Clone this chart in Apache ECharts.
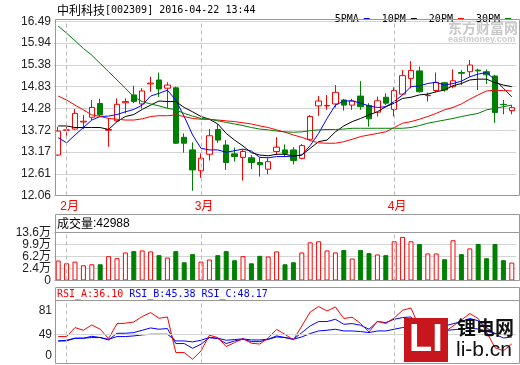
<!DOCTYPE html>
<html><head><meta charset="utf-8">
<script src="https://cdn.jsdelivr.net/npm/echarts@6/dist/echarts.min.js"></script>
<style>html,body{margin:0;padding:0;background:#fff}#c{width:520px;height:365px}</style>
</head><body><div id="c"></div>
<script>
const dates = ['2016-01-29',
 '2016-02-01','2016-02-02','2016-02-03','2016-02-04','2016-02-05','2016-02-15','2016-02-16','2016-02-17','2016-02-18','2016-02-19','2016-02-22','2016-02-23','2016-02-24','2016-02-25','2016-02-26','2016-02-29',
 '2016-03-01','2016-03-02','2016-03-03','2016-03-04','2016-03-07','2016-03-08','2016-03-09','2016-03-10','2016-03-11','2016-03-14','2016-03-15','2016-03-16','2016-03-17','2016-03-18','2016-03-21','2016-03-22','2016-03-23','2016-03-24','2016-03-25','2016-03-28','2016-03-29','2016-03-30','2016-03-31',
 '2016-04-01','2016-04-05','2016-04-06','2016-04-07','2016-04-08','2016-04-11','2016-04-12','2016-04-13','2016-04-14','2016-04-15','2016-04-18','2016-04-19','2016-04-20','2016-04-21','2016-04-22'];
const opens  = [13.09,13.72,13.75,13.93,14.05,14.40,13.72,13.96,14.42,14.62,14.39,14.90,15.00,14.79,14.80,13.54,13.22,12.69,13.11,13.74,13.345,13.12,13.03,13.02,12.90,12.73,13.18,13.22,13.22,13.005,13.49,14.34,14.34,14.39,14.49,14.36,14.59,14.35,14.18,14.56,14.25,14.64,15.04,15.23,14.60,14.73,14.93,14.83,15.19,15.21,15.25,15.21,15.10,14.38,14.22];
const closes = [13.70,13.73,14.15,13.95,14.30,14.11,13.74,14.38,14.45,14.45,14.72,14.92,14.77,14.87,13.39,13.39,12.71,13.01,13.58,13.47,12.90,13.05,13.18,12.90,12.84,12.92,13.29,13.13,12.95,13.33,14.07,14.465,14.35,14.685,14.36,14.465,14.32,14.01,14.47,14.41,14.73,15.11,15.24,14.70,14.61,14.94,14.745,14.98,15.17,15.38,15.23,15.13,14.17,14.37,14.295];
const lows   = [13.065,13.53,13.73,13.75,13.98,14.07,13.30,13.94,14.15,14.41,14.28,14.70,14.57,14.28,13.37,13.15,12.18,12.51,12.95,13.40,12.71,12.92,12.44,12.73,12.54,12.60,13.09,13.065,12.85,12.98,13.46,14.09,14.24,14.30,14.22,14.24,14.24,13.81,14.07,14.36,14.07,14.62,14.79,14.68,14.45,14.68,14.70,14.79,14.87,15.08,14.745,14.90,13.91,14.125,14.125];
const highs  = [13.81,13.81,14.26,14.11,14.49,14.52,14.03,14.53,14.53,14.85,14.79,15.08,15.19,14.94,14.83,13.64,13.41,13.13,13.75,13.87,13.47,13.28,13.22,13.09,13.03,13.01,13.54,13.36,13.29,13.37,14.11,14.59,14.62,14.87,14.52,14.52,14.97,14.41,14.575,14.66,14.81,15.25,15.48,15.34,14.68,15.19,14.95,15.27,15.25,15.51,15.29,15.27,15.13,14.49,14.36];
const ma5  = [13.53,13.40,13.60,13.79,13.98,14.07,14.08,14.12,14.19,14.25,14.36,14.59,14.66,14.74,14.49,14.07,13.60,13.26,13.22,13.22,13.16,13.20,13.24,13.19,13.03,13.02,13.05,13.05,13.065,13.09,13.33,13.64,14.02,14.36,14.465,14.47,14.41,14.34,14.30,14.32,14.45,14.62,14.83,14.85,14.91,14.94,14.87,14.91,14.97,15.08,15.15,15.19,15.00,14.79,14.57];
const ma10 = [13.83,13.83,13.79,13.79,13.79,13.79,13.74,13.94,14.07,14.12,14.25,14.36,14.465,14.45,14.45,14.30,14.19,14.07,14.00,13.88,13.64,13.47,13.32,13.15,13.09,13.07,13.11,13.11,13.065,13.09,13.26,13.43,13.47,13.68,13.83,13.94,14.02,14.11,14.19,14.32,14.41,14.53,14.56,14.62,14.64,14.70,14.745,14.855,14.91,15.00,15.02,15.02,14.93,14.87,14.83];
const ma20 = [14.59,14.49,14.36,14.24,14.11,14.07,14.02,14.00,13.98,13.98,14.01,14.07,14.09,14.09,14.11,14.07,14.02,14.00,14.00,13.98,13.96,13.94,13.91,13.88,13.83,13.79,13.73,13.67,13.60,13.54,13.46,13.40,13.39,13.39,13.43,13.49,13.56,13.60,13.64,13.68,13.79,13.90,13.94,14.00,14.07,14.15,14.24,14.30,14.39,14.51,14.62,14.72,14.74,14.73,14.72];
const ma30 = [16.37,16.19,16.00,15.80,15.63,15.42,15.21,15.00,14.79,14.57,14.45,14.39,14.34,14.28,14.24,14.15,14.08,14.02,14.00,13.96,13.92,13.88,13.84,13.79,13.75,13.73,13.70,13.68,13.67,13.68,13.71,13.73,13.74,13.74,13.75,13.77,13.77,13.77,13.77,13.77,13.77,13.77,13.79,13.84,13.90,13.94,13.98,14.02,14.07,14.11,14.15,14.24,14.28,14.32,14.36];
const volumes = [5.65,4.88,5.36,4.31,4.60,4.60,6.90,6.32,7.95,8.33,8.52,8.24,7.18,6.51,8.33,5.17,7.47,5.36,5.94,7.18,8.33,5.75,6.90,4.88,6.99,6.80,8.24,4.60,5.17,7.95,10.82,11.11,8.52,7.95,8.62,6.22,8.62,7.76,7.37,7.18,11.11,12.35,11.11,10.34,7.66,7.66,6.03,11.40,7.47,9.10,10.34,6.32,10.34,5.75,5.08];
const rsiA = [45.9,45.9,57.9,54.3,61.4,55.7,43.2,63.2,63.7,65.4,72.6,77.9,70.3,72.1,24.6,24.6,15.7,26.8,47.7,44.6,32.6,37.9,43.2,37.0,36.0,44.0,55.5,48.8,41.5,60.0,78.7,86.0,80.0,85.4,70.0,71.7,63.3,52.0,66.3,63.3,70.7,81.0,84.0,58.0,55.0,57.0,52.0,60.0,68.0,76.6,70.0,52.0,31.0,27.0,36.1];
const rsiB = [40.1,40.1,43.7,43.7,46.3,44.6,41.4,50.3,50.3,51.2,54.3,57.4,55.7,56.6,36.6,36.6,30.3,35.7,44.6,43.2,36.6,40.1,42.3,39.2,39.2,42.3,46.8,44.6,42.3,51.2,60.1,65.9,65.9,69.0,62.3,63.2,61.0,55.7,65.9,64.6,69.0,71.2,72.1,62.0,60.0,61.0,60.0,63.0,66.0,70.0,67.0,58.0,49.0,44.0,45.38];
const rsiC = [40.1,41.0,43.7,43.7,44.6,44.6,42.3,45.9,45.9,46.8,48.1,49.0,49.0,49.0,40.1,40.1,38.8,41.0,44.6,43.7,41.0,41.9,42.8,41.4,41.4,42.3,45.4,44.6,42.3,45.4,49.9,53.4,54.3,55.7,53.4,53.4,52.6,51.2,53.4,53.4,55.7,57.9,57.9,55.0,54.0,54.5,54.0,55.0,56.0,57.0,56.0,53.0,50.0,48.5,48.17];
const priceTicks = ['12.06','12.61','13.17','13.72','14.28','14.83','15.38','15.94','16.49'];
const volTickValues = [0, 3.4, 6.8, 10.2, 13.6];
const volTickLabels = ['0','2.4万','6.2万','9.9万','13.6万'];
const rsiTickValues = [20, 49, 81];
const rsiTickLabels = ['0','49','81'];
const maNames = ['5PMA','10PM','20PM','30PM'];
const maColors = ['#0000ff','#000000','#ff0000','#008000'];
const titleCode = '中利科技';
const titleRest = '[002309] 2016-04-22 13:44';
const volHeader = ['成交量', ':42988'];
const rsiHeader = [['RSI_A:36.10','#ff0000'],['RSI_B:45.38','#0000ff'],['RSI_C:48.17','#0000ff']];

const RED = '#ff0000', GREEN = '#008000';
const monthStarts = dates.filter((d, i) => i > 0 && d.slice(5, 7) !== dates[i - 1].slice(5, 7));
const GL = 54, GW = 462;
const labelFont = { fontFamily: 'Liberation Sans, Noto Sans CJK SC', fontSize: 12, color: '#222' };
function pick(values, labels) {
  return v => { const k = values.findIndex(t => Math.abs(t - v) < 1e-6); return k >= 0 ? labels[k] : ''; };
}
const monthMark = (extra) => ({
  silent: true, symbol: ['none', 'none'], label: { show: false }, animation: false,
  lineStyle: { color: '#bbbbbb', type: [4, 3], width: 1 },
  data: monthStarts.map(d => ({ xAxis: d })).concat(extra || [])
});
const isUp = closes.map((c, i) => c >= opens[i]);

const chart = echarts.init(document.getElementById('c'), null, { renderer: 'canvas' });
const catAxis = (gi, showLabel) => ({
  type: 'category', gridIndex: gi, data: dates, boundaryGap: true,
  axisLine: { show: false }, axisTick: { show: false }, splitLine: { show: false },
  axisLabel: showLabel ? {
    show: true, interval: (idx, val) => monthStarts.includes(val),
    formatter: v => parseInt(v.slice(5, 7), 10) + '月',
    color: RED, fontFamily: 'Liberation Sans, Noto Sans CJK SC', fontSize: 12, margin: 5, padding: [0, 0, 0, 6]
  } : { show: false }
});
const priceVals = priceTicks.map(Number);
chart.setOption({
  animation: false,
  backgroundColor: '#fff',
  legend: {
    data: maNames, right: 4, top: 9, align: 'right', icon: 'rect', itemWidth: 6, itemHeight: 2, itemGap: 12,
    textStyle: { fontFamily: 'DejaVu Sans Mono', fontSize: 10, color: '#000' }, selectedMode: false
  },
  grid: [
    { left: GL, top: 21.4, width: GW, height: 174.1 },
    { left: GL, top: 232.5, width: GW, height: 48 },
    { left: GL, top: 300.5, width: GW, height: 63 }
  ],
  xAxis: [catAxis(0, true), catAxis(1, false), catAxis(2, false)],
  yAxis: [
    { type: 'value', gridIndex: 0, min: 12.06, max: 16.49,
      axisLine: { show: false }, axisTick: { show: false, customValues: priceVals },
      axisLabel: Object.assign({ customValues: priceVals, margin: 3, formatter: pick(priceVals, priceTicks) }, labelFont),
      splitLine: { show: true, lineStyle: { color: '#d4d4d4' } } },
    { type: 'value', gridIndex: 1, min: 0, max: 13.6,
      axisLine: { show: false }, axisTick: { show: false, customValues: volTickValues },
      axisLabel: Object.assign({ customValues: volTickValues, margin: 3, formatter: pick(volTickValues, volTickLabels) }, labelFont),
      splitLine: { show: true, lineStyle: { color: '#d4d4d4' } } },
    { type: 'value', gridIndex: 2, min: 10, max: 94,
      axisLine: { show: false }, axisTick: { show: false, customValues: rsiTickValues },
      axisLabel: Object.assign({ customValues: rsiTickValues, margin: 2, formatter: pick(rsiTickValues, rsiTickLabels) }, labelFont),
      splitLine: { show: false } }
  ],
  series: [
    { type: 'candlestick', name: 'K', xAxisIndex: 0, yAxisIndex: 0, barWidth: 6,
      data: opens.map((o, i) => [o, closes[i], lows[i], highs[i]]),
      itemStyle: { color: '#ffffff', color0: GREEN, borderColor: RED, borderColor0: GREEN, borderWidth: 1 },
      markLine: monthMark() },
    ...[ma5, ma10, ma20, ma30].map((d, k) => ({
      type: 'line', name: maNames[k], xAxisIndex: 0, yAxisIndex: 0, data: d,
      symbol: 'none', lineStyle: { width: 1, color: maColors[k] }, itemStyle: { color: maColors[k] }, z: 3
    })),
    { type: 'bar', name: 'VOL', xAxisIndex: 1, yAxisIndex: 1, barWidth: 5,
      data: volumes.map((v, i) => ({ value: v, itemStyle: {
        color: isUp[i] ? '#ffffff' : GREEN, borderColor: isUp[i] ? RED : GREEN, borderWidth: 1 } })),
      markLine: monthMark() },
    { type: 'line', name: 'RSI_A', xAxisIndex: 2, yAxisIndex: 2, data: rsiA, symbol: 'none',
      lineStyle: { width: 1, color: RED }, z: 4,
      markLine: monthMark([{ yAxis: 49, lineStyle: { color: '#d4d4d4', type: 'solid' } }]) },
    { type: 'line', name: 'RSI_B', xAxisIndex: 2, yAxisIndex: 2, data: rsiB, symbol: 'none',
      lineStyle: { width: 1, color: '#0000ff' }, z: 3 },
    { type: 'line', name: 'RSI_C', xAxisIndex: 2, yAxisIndex: 2, data: rsiC, symbol: 'none',
      lineStyle: { width: 1, color: '#0000ff' }, z: 3 }
  ],
  graphic: [
    // title
    { type: 'text', x: 57, y: 10, z: 10, style: {
      text: '{a|' + titleCode + '}{b|' + titleRest + '}', verticalAlign: 'middle',
      rich: { a: { fontFamily: 'Noto Sans CJK SC', fontSize: 12, fill: '#000' },
              b: { fontFamily: 'DejaVu Sans Mono', fontSize: 10, fill: '#000' } } } },
    // eastmoney watermark
    { type: 'text', x: 448, y: 28, z: 0, style: { text: '东方财富网', font: 'bold 14px "Noto Sans CJK SC"', fill: '#c8c8c8', verticalAlign: 'middle' } },
    { type: 'text', x: 448, y: 40, z: 0, style: { text: 'eastmoney.com', font: 'bold 9px "Liberation Sans"', fill: '#cccccc', verticalAlign: 'middle' } },
    // frames
    { type: 'rect', z: 50, shape: { x: 55.5, y: 19.5, width: 464, height: 176 }, style: { fill: 'none', stroke: '#999', lineWidth: 1 } },
    { type: 'rect', z: 50, shape: { x: 55.5, y: 214.5, width: 464, height: 66 }, style: { fill: 'none', stroke: '#999', lineWidth: 1 } },
    { type: 'line', z: 50, shape: { x1: 55.5, y1: 232.5, x2: 519.5, y2: 232.5 }, style: { stroke: '#999', lineWidth: 1 } },
    { type: 'rect', z: 50, shape: { x: 55.5, y: 287.5, width: 464, height: 76 }, style: { fill: 'none', stroke: '#999', lineWidth: 1 } },
    { type: 'line', z: 50, shape: { x1: 55.5, y1: 300.5, x2: 519.5, y2: 300.5 }, style: { stroke: '#999', lineWidth: 1 } },
    // headers
    { type: 'text', x: 57, y: 223.5, z: 51, style: {
      text: '{a|' + volHeader[0] + '}{b|' + volHeader[1] + '}', verticalAlign: 'middle',
      rich: { a: { fontFamily: 'Noto Sans CJK SC', fontSize: 12, fill: '#000' },
              b: { fontFamily: 'Liberation Sans', fontSize: 12, fill: '#000' } } } },
    { type: 'text', x: 57, y: 294, z: 51, style: {
      text: rsiHeader.map((h, k) => '{r' + k + '|' + h[0] + '}').join('{s| }'), verticalAlign: 'middle',
      rich: Object.assign({ s: { fontFamily: 'DejaVu Sans Mono', fontSize: 10 } },
        ...rsiHeader.map((h, k) => ({ ['r' + k]: { fontFamily: 'DejaVu Sans Mono', fontSize: 10, fill: h[1] } }))) } },
    // li-b.cn logo
    { type: 'rect', z: 60, shape: { x: 404, y: 318, width: 44, height: 44 }, style: { fill: '#c8161d' } },
    { type: 'text', x: 426, y: 341, z: 61, style: { text: 'LI', font: 'bold 38px "Liberation Sans"', fill: '#fff', align: 'center', verticalAlign: 'middle' } },
    { type: 'text', x: 457, y: 328, z: 61, style: { text: '锂电网', font: 'bold 19px "Noto Sans CJK SC"', fill: '#111', verticalAlign: 'middle' } },
    { type: 'text', x: 456, y: 350, z: 61, style: { text: 'li-b.cn', font: '21px "Liberation Sans"', fill: '#111', verticalAlign: 'middle' } }
  ]
});
</script></body></html>
